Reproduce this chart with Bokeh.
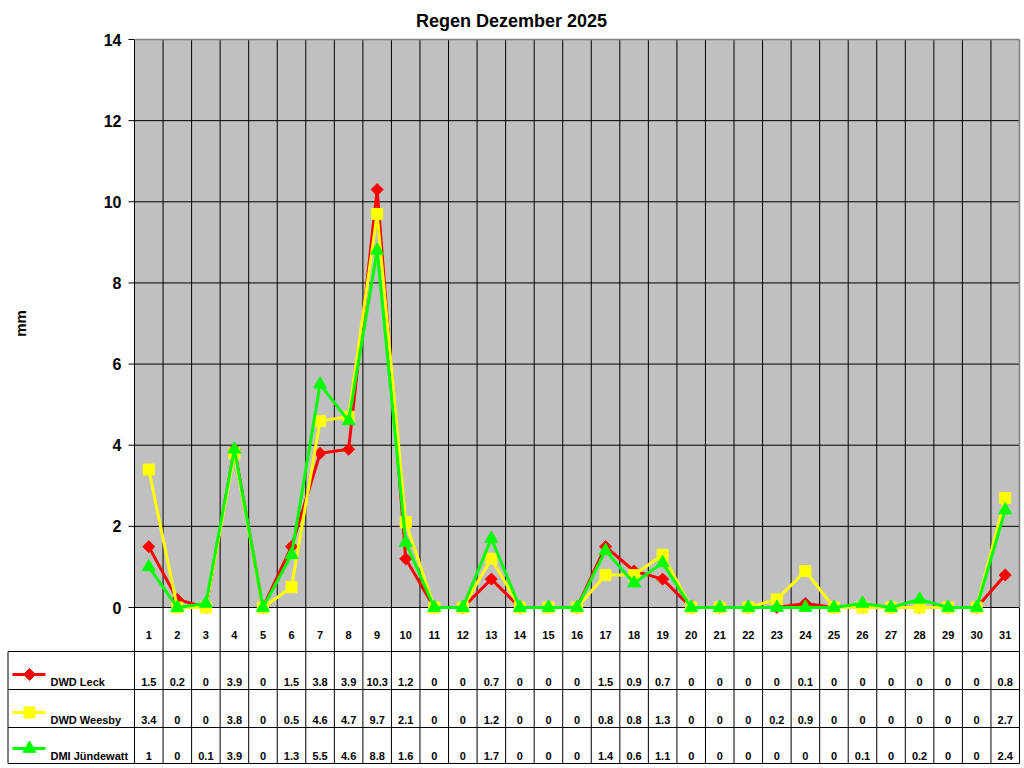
import numpy as np
from bokeh.plotting import figure
from bokeh.models import Range1d
from bokeh.core.properties import value
from bokeh.embed import file_html
from bokeh.resources import INLINE

# ---------------- data ----------------
title_text = "Regen Dezember 2025"
y_label = "mm"
days = list(range(1, 32))
y_ticks = [0, 2, 4, 6, 8, 10, 12, 14]
series_names = ["DWD Leck", "DWD Weesby", "DMI Jündewatt"]
dwd_leck = [1.5, 0.2, 0, 3.9, 0, 1.5, 3.8, 3.9, 10.3, 1.2, 0, 0, 0.7, 0, 0, 0,
            1.5, 0.9, 0.7, 0, 0, 0, 0, 0.1, 0, 0, 0, 0, 0, 0, 0.8]
dwd_weesby = [3.4, 0, 0, 3.8, 0, 0.5, 4.6, 4.7, 9.7, 2.1, 0, 0, 1.2, 0, 0, 0,
              0.8, 0.8, 1.3, 0, 0, 0, 0.2, 0.9, 0, 0, 0, 0, 0, 0, 2.7]
dmi_juendewatt = [1, 0, 0.1, 3.9, 0, 1.3, 5.5, 4.6, 8.8, 1.6, 0, 0, 1.7, 0, 0, 0,
                  1.4, 0.6, 1.1, 0, 0, 0, 0, 0, 0, 0.1, 0, 0.2, 0, 0, 2.4]
series_values = [dwd_leck, dwd_weesby, dmi_juendewatt]

# ---------------- layout (pixels) ----------------
W, H = 1024, 768
PLOT_L, PLOT_R = 134.0, 1019.0
PLOT_T, ZERO = 39.0, 607.0
TABLE_L = 7.5
CAT_B = 651.0
ROW_B = [689.0, 727.0, 763.0]
FONT = value("Liberation Sans")

n = len(days)
DX = (PLOT_R - PLOT_L) / n
DY = (ZERO - PLOT_T) / max(y_ticks)


def px2x(px):
    return days[0] - 0.5 + (px - PLOT_L) / DX


def py2y(py):
    return (ZERO - py) / DY


x_lo, x_hi = days[0] - 0.5, days[-1] + 0.5
y_top = max(y_ticks)
table_bottom = py2y(ROW_B[-1])

p = figure(width=W, height=H,
           x_range=Range1d(px2x(0), px2x(W)),
           y_range=Range1d(py2y(H), py2y(0)),
           x_axis_location=None, y_axis_location=None,
           min_border=0, toolbar_location=None, output_backend="svg",
           title=None, outline_line_color=None,
           background_fill_color="white", border_fill_color="white")
p.grid.visible = False

# plot background
p.quad(left=[x_lo], right=[x_hi], bottom=[0], top=[y_top],
       fill_color="#C0C0C0", line_color=None)

# horizontal gridlines + ticks
inner = [t for t in y_ticks if t != y_top]
p.segment(x0=[x_lo] * len(inner), y0=inner, x1=[x_hi] * len(inner), y1=inner,
          line_color="black", line_width=1)
tick_x0 = px2x(PLOT_L - 6)
p.segment(x0=[tick_x0] * len(y_ticks), y0=y_ticks, x1=[x_lo] * len(y_ticks), y1=y_ticks,
          line_color="black", line_width=1)

# vertical lines through plot and table
bounds = [d - 0.5 for d in days]
p.segment(x0=bounds, y0=[y_top] * len(bounds), x1=bounds, y1=[table_bottom] * len(bounds),
          line_color="black", line_width=1)
p.segment(x0=[x_hi], y0=[0], x1=[x_hi], y1=[table_bottom], line_color="black", line_width=1)
# gray border top/right
p.segment(x0=[x_lo, x_hi], y0=[y_top, y_top], x1=[x_hi, x_hi], y1=[y_top, 0],
          line_color="#808080", line_width=1.5)

# table horizontal lines
t_left = px2x(TABLE_L)
row_lines = [py2y(CAT_B)] + [py2y(b) for b in ROW_B]
p.segment(x0=[t_left] * len(row_lines), y0=row_lines, x1=[x_hi] * len(row_lines), y1=row_lines,
          line_color="black", line_width=1)
p.segment(x0=[t_left], y0=[py2y(CAT_B)], x1=[t_left], y1=[table_bottom],
          line_color="black", line_width=1)

# series
styles = [
    dict(color="#FF0000", marker="square", size=8.5, angle=np.pi / 4),
    dict(color="#FFFF00", marker="square", size=11, angle=0.0),
    dict(color="#00FF00", marker="triangle", size=13, angle=0.0),
]
for vals, st in zip(series_values, styles):
    p.line(days, vals, line_color=st["color"], line_width=3)
    p.scatter(days, vals, marker=st["marker"], size=st["size"], angle=st["angle"],
              fill_color=st["color"], line_color=st["color"])

# legend samples + names + values
for i, (name, vals, st) in enumerate(zip(series_names, series_values, styles)):
    rb = ROW_B[i]
    ys = py2y(rb - 15)
    p.line([px2x(12), px2x(45)], [ys, ys], line_color=st["color"], line_width=3)
    p.scatter([px2x(29)], [ys], marker=st["marker"], size=st["size"], angle=st["angle"],
              fill_color=st["color"], line_color=st["color"])
    yt = py2y(rb - 7.5)
    p.text([px2x(50)], [yt], text=[name], text_font=FONT, text_font_style="bold",
           text_font_size="11px", text_align="left", text_baseline="middle", text_color="black")
    p.text(days, [yt] * n, text=[f"{v:g}" for v in vals], text_font=FONT, text_font_style="bold",
           text_font_size="11px", text_align="center", text_baseline="middle", text_color="black")

# day labels
p.text(days, [py2y(ZERO + 27)] * n, text=[str(d) for d in days], text_font=FONT,
       text_font_style="bold", text_font_size="11px", text_align="center",
       text_baseline="middle", text_color="black")

# y tick labels
p.text([px2x(PLOT_L - 13)] * len(y_ticks), y_ticks, text=[str(t) for t in y_ticks],
       text_font=FONT, text_font_style="bold", text_font_size="16px",
       text_align="right", text_baseline="middle", text_color="black")

# y label
p.text([px2x(20)], [py2y(323)], text=[y_label], angle=np.pi / 2, text_font=FONT,
       text_font_style="bold", text_font_size="15px", text_align="center",
       text_baseline="middle", text_color="black")

# title
p.text([px2x(511)], [py2y(20)], text=[title_text], text_font=FONT,
       text_font_style="bold", text_font_size="18px", text_align="center",
       text_baseline="middle", text_color="black")

open("out.html", "w").write(file_html(p, INLINE))
